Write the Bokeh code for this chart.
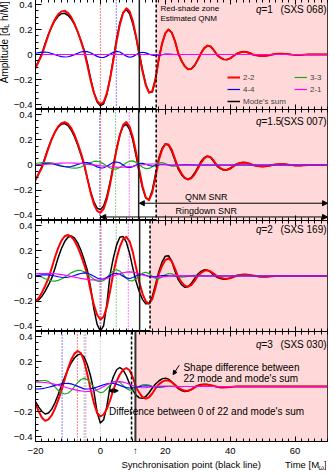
from bokeh.plotting import figure
from bokeh.models import (Span, BoxAnnotation, Label, Arrow, NormalHead, Legend, LegendItem,
                          SingleIntervalTicker, FixedTicker, CustomJSTickFormatter, Range1d,
                          LinearAxis)
from bokeh.layouts import column, row
from bokeh.embed import file_html
from bokeh.resources import INLINE
import math

FONT = "Liberation Sans"
RED, GREEN, BLUE, MAG = "#ff0000", "#1fa81f", "#0000ff", "#ff00ff"
SHADE = "#ffd9d9"

# time samples (M)
T = list(range(-20, 71))
TM = list(range(-20, 31)) + [70]
TZ = [-20, 70]

# ---------------- q = 1 (SXS 068) ----------------
red1 = [-0.11, -0.055, 0.0, 0.081, 0.158, 0.226, 0.282, 0.322, 0.345, 0.349,
        0.333, 0.299, 0.247, 0.182, 0.107, 0.025, -0.089, -0.207, -0.305, -0.371,
        -0.399, -0.381, -0.309, -0.191, -0.046, 0.105, 0.239, 0.332, 0.37, 0.346,
        0.267, 0.145, 0.0, -0.138, -0.247, -0.305, -0.293, -0.193, -0.034, 0.087,
        0.169, 0.2, 0.175, 0.106, 0.01, -0.05, -0.094, -0.118, -0.115, -0.089,
        -0.043, 0.009, 0.051, 0.071, 0.064, 0.033, -0.005, -0.025, -0.039, -0.041,
        -0.031, -0.012, 0.006, 0.016, 0.022, 0.02, 0.012, 0.0, -0.006, -0.01,
        -0.012, -0.01, -0.006, 0.0, 0.004, 0.007, 0.007, 0.005, 0.002, -0.001,
        -0.003, -0.004, -0.003, -0.001, 0, 0, 0, 0, 0, 0,
        0]
sum1 = [-0.10, -0.05, 0.01, 0.09, 0.162, 0.222, 0.272, 0.307, 0.327, 0.33,
        0.314, 0.285, 0.24, 0.182, 0.112, 0.035, -0.07, -0.193, -0.305, -0.38,
        -0.41, -0.395, -0.318, -0.19, -0.03, 0.125, 0.255, 0.335, 0.36, 0.325,
        0.246, 0.135, 0.005, -0.125, -0.238, -0.305, -0.3, -0.2, -0.038, 0.085,
        0.17, 0.2, 0.176, 0.107, 0.01, -0.05, -0.094, -0.118, -0.115, -0.089,
        -0.043, 0.009, 0.051, 0.071, 0.064, 0.033, -0.005, -0.025, -0.039, -0.041,
        -0.031, -0.012, 0.006, 0.016, 0.022, 0.02, 0.012, 0.0, -0.006, -0.01,
        -0.012, -0.01, -0.006, 0.0, 0.004, 0.007, 0.007, 0.005, 0.002, -0.001,
        -0.003, -0.004, -0.003, -0.001, 0, 0, 0, 0, 0, 0,
        0]
blue1 = [0.01, 0.015, 0.019, 0.02, 0.016, 0.008, -0.001, -0.01, -0.017, -0.02,
         -0.018, -0.011, -0.001, 0.01, 0.02, 0.025, 0.023, 0.014, -0.001, -0.015,
         -0.024, -0.024, -0.013, 0.003, 0.018, 0.025, 0.02, 0.004, -0.013, -0.022,
         -0.017, -0.002, 0.013, 0.018, 0.013, 0.003, -0.006, -0.01, -0.008, -0.002,
         0.003, 0.004, 0.002, 0, -0.001, 0, 0, 0, 0, 0,
         0, 0]
green1 = [0, 0]
mag1 = [0, 0]

# ---------------- q = 1.5 (SXS 007) ----------------
red2 = [-0.12, -0.07, -0.02, 0.056, 0.134, 0.204, 0.262, 0.306, 0.332, 0.34,
        0.327, 0.293, 0.24, 0.172, 0.094, 0.009, -0.11, -0.221, -0.309, -0.364,
        -0.379, -0.348, -0.269, -0.152, -0.014, 0.124, 0.24, 0.317, 0.34, 0.305,
        0.22, 0.097, -0.042, -0.171, -0.257, -0.279, -0.219, -0.093, 0.038, 0.12,
        0.166, 0.163, 0.12, 0.049, -0.02, -0.068, -0.101, -0.115, -0.106, -0.076,
        -0.031, 0.017, 0.052, 0.07, 0.062, 0.032, -0.005, -0.024, -0.038, -0.039,
        -0.03, -0.011, 0.006, 0.015, 0.02, 0.018, 0.011, 0.0, -0.006, -0.01,
        -0.012, -0.01, -0.006, 0.0, 0.004, 0.006, 0.007, 0.005, 0.002, -0.001,
        -0.003, -0.004, -0.003, -0.001, 0, 0, 0, 0, 0, 0,
        0]
sum2 = [-0.12, -0.065, -0.01, 0.065, 0.14, 0.207, 0.26, 0.3, 0.323, 0.328,
        0.313, 0.278, 0.225, 0.158, 0.082, 0.0, -0.108, -0.212, -0.292, -0.342,
        -0.354, -0.325, -0.248, -0.135, 0.0, 0.13, 0.238, 0.307, 0.323, 0.283,
        0.195, 0.072, -0.065, -0.185, -0.262, -0.274, -0.2, -0.07, 0.055, 0.131,
        0.168, 0.157, 0.108, 0.035, -0.033, -0.077, -0.106, -0.113, -0.1, -0.066,
        -0.02, 0.027, 0.058, 0.07, 0.058, 0.025, -0.01, -0.028, -0.04, -0.038,
        -0.026, -0.007, 0.009, 0.017, 0.02, 0.017, 0.009, 0.0, -0.006, -0.01,
        -0.012, -0.01, -0.006, 0.0, 0.004, 0.006, 0.007, 0.005, 0.002, -0.001,
        -0.003, -0.004, -0.003, -0.001, 0, 0, 0, 0, 0, 0,
        0]
blue2 = [-0.005, 0.002, 0.008, 0.011, 0.012, 0.01, 0.004, -0.003, -0.01, -0.014,
         -0.015, -0.012, -0.005, 0.004, 0.013, 0.019, 0.019, 0.011, -0.001, -0.015,
         -0.024, -0.022, -0.01, 0.006, 0.021, 0.024, 0.017, 0.0, -0.017, -0.021,
         -0.013, 0.0, 0.012, 0.014, 0.006, -0.004, -0.008, -0.006, 0.0, 0.004,
         0.003, 0.0, -0.002, 0, 0, 0, 0, 0, 0, 0,
         0, 0]
green2 = [0.012, 0.016, 0.019, 0.02, 0.02, 0.017, 0.011, 0.004, -0.004, -0.012,
          -0.018, -0.023, -0.025, -0.023, -0.016, -0.004, 0.009, 0.02, 0.028, 0.03,
          0.023, 0.009, -0.009, -0.024, -0.032, -0.031, -0.019, -0.001, 0.018, 0.03,
          0.033, 0.021, 0.002, -0.018, -0.029, -0.027, -0.013, 0.005, 0.018, 0.019,
          0.011, 0.0, -0.009, -0.009, -0.005, 0.0, 0.004, 0.004, 0.001, -0.002,
          -0.002, 0]
mag2 = [0.0, 0.002, 0.004, 0.006, 0.008, 0.01, 0.012, 0.014, 0.015, 0.016,
        0.016, 0.016, 0.015, 0.014, 0.012, 0.009, 0.006, 0.003, 0.0, -0.003,
        -0.006, -0.009, -0.012, -0.014, -0.016, -0.017, -0.018, -0.017, -0.016, -0.013,
        -0.01, -0.006, -0.002, 0.002, 0.005, 0.007, 0.008, 0.008, 0.007, 0.006,
        0.004, 0.002, 0.0, -0.001, -0.002, -0.002, -0.002, -0.001, 0.0, 0.0,
        0, 0]

# ---------------- q = 2 (SXS 169) ----------------
red3 = [-0.20, -0.174, -0.13, -0.077, -0.018, 0.063, 0.149, 0.223, 0.28, 0.315,
        0.325, 0.312, 0.28, 0.23, 0.165, 0.089, 0.008, -0.117, -0.229, -0.309,
        -0.344, -0.324, -0.244, -0.118, 0.024, 0.138, 0.232, 0.292, 0.31, 0.275,
        0.189, 0.067, -0.05, -0.141, -0.201, -0.22, -0.182, -0.092, 0.014, 0.08,
        0.126, 0.14, 0.116, 0.059, -0.009, -0.049, -0.076, -0.085, -0.072, -0.041,
        0.0, 0.024, 0.041, 0.045, 0.036, 0.017, -0.003, -0.013, -0.02, -0.022,
        -0.018, -0.008, 0.002, 0.006, 0.009, 0.01, 0.008, 0.005, 0.001, -0.002,
        -0.004, -0.005, -0.004, -0.002, 0, 0, 0, 0, 0, 0,
        0, 0, 0, 0, 0, 0, 0, 0, 0, 0,
        0]
sum3 = [-0.20, -0.188, -0.16, -0.12, -0.071, -0.017, 0.062, 0.146, 0.218, 0.273,
        0.307, 0.317, 0.302, 0.263, 0.204, 0.129, 0.044, -0.093, -0.262, -0.384,
        -0.438, -0.393, -0.22, 0.013, 0.143, 0.247, 0.307, 0.313, 0.268, 0.18,
        0.063, -0.044, -0.125, -0.187, -0.221, -0.218, -0.163, -0.067, 0.034, 0.11,
        0.157, 0.161, 0.117, 0.037, -0.029, -0.069, -0.089, -0.085, -0.06, -0.022,
        0.014, 0.037, 0.049, 0.046, 0.03, 0.005, -0.01, -0.02, -0.025, -0.023,
        -0.015, -0.004, 0.004, 0.009, 0.012, 0.011, 0.007, 0.002, -0.002, -0.005,
        -0.006, -0.005, -0.003, 0, 0, 0, 0, 0, 0, 0,
        0, 0, 0, 0, 0, 0, 0, 0, 0, 0,
        0]
blue3 = [0.0, 0.005, 0.009, 0.01, 0.009, 0.005, 0.0, -0.006, -0.01, -0.012,
         -0.01, -0.004, 0.004, 0.013, 0.02, 0.025, 0.022, 0.012, -0.002, -0.016,
         -0.024, -0.022, -0.012, 0.004, 0.018, 0.022, 0.014, -0.001, -0.015, -0.02,
         -0.012, 0.0, 0.011, 0.013, 0.006, -0.003, -0.007, -0.005, 0.0, 0.003,
         0.004, 0.002, 0.0, -0.001, 0, 0, 0, 0, 0, 0,
         0, 0]
green3 = [0.008, 0.002, -0.01, -0.022, -0.032, -0.038, -0.04, -0.035, -0.024, -0.009,
          0.008, 0.025, 0.037, 0.044, 0.044, 0.034, 0.016, -0.005, -0.026, -0.04,
          -0.045, -0.036, -0.012, 0.017, 0.041, 0.05, 0.039, 0.013, -0.018, -0.037,
          -0.038, -0.022, 0.002, 0.023, 0.03, 0.019, -0.001, -0.019, -0.021, -0.008,
          0.01, 0.02, 0.017, 0.008, -0.003, -0.01, -0.008, -0.002, 0.003, 0.005,
          0.003, 0]
mag3 = [0.018, 0.019, 0.02, 0.02, 0.02, 0.019, 0.018, 0.015, 0.011, 0.007,
        0.002, -0.003, -0.009, -0.014, -0.019, -0.023, -0.027, -0.03, -0.031, -0.032,
        -0.03, -0.026, -0.019, -0.01, 0.0, 0.01, 0.019, 0.026, 0.03, 0.032,
        0.03, 0.026, 0.018, 0.01, 0.002, -0.006, -0.01, -0.012, -0.011, -0.008,
        -0.005, -0.002, 0.001, 0.003, 0.004, 0.003, 0.002, 0.0, -0.001, -0.001,
        0, 0]

# ---------------- q = 3 (SXS 030) ----------------
red4 = [-0.14, -0.2, -0.25, -0.275, -0.263, -0.23, -0.177, -0.109, -0.032, 0.056,
        0.143, 0.214, 0.263, 0.284, 0.268, 0.2, 0.097, -0.024, -0.133, -0.212,
        -0.24, -0.224, -0.179, -0.11, -0.026, 0.042, 0.096, 0.133, 0.148, 0.13,
        0.072, -0.005, -0.051, -0.085, -0.097, -0.086, -0.056, -0.014, 0.017, 0.037,
        0.049, 0.048, 0.035, 0.013, -0.009, -0.025, -0.034, -0.034, -0.025, -0.009,
        0.005, 0.011, 0.015, 0.014, 0.01, 0.004, -0.002, -0.006, -0.007, -0.006,
        -0.004, -0.001, 0, 0, 0, 0, 0, 0, 0, 0,
        0, 0, 0, 0, 0, 0, 0, 0, 0, 0,
        0, 0, 0, 0, 0, 0, 0, 0, 0, 0,
        0]
sum4 = [-0.12, -0.165, -0.2, -0.22, -0.212, -0.181, -0.13, -0.065, 0.007, 0.074,
        0.136, 0.189, 0.228, 0.253, 0.26, 0.235, 0.172, 0.082, -0.038, -0.209,
        -0.292, -0.266, -0.157, 0.0, 0.078, 0.134, 0.152, 0.133, 0.086, 0.021,
        -0.031, -0.069, -0.091, -0.094, -0.079, -0.05, -0.012, 0.02, 0.044, 0.061,
        0.067, 0.059, 0.037, 0.007, -0.016, -0.032, -0.04, -0.037, -0.024, -0.004,
        0.008, 0.016, 0.019, 0.017, 0.011, 0.003, -0.004, -0.008, -0.009, -0.007,
        -0.004, -0.001, 0, 0, 0, 0, 0, 0, 0, 0,
        0, 0, 0, 0, 0, 0, 0, 0, 0, 0,
        0, 0, 0, 0, 0, 0, 0, 0, 0, 0,
        0]
blue4 = [-0.02, -0.02, -0.017, -0.012, -0.006, 0.001, 0.009, 0.016, 0.021, 0.024,
         0.025, 0.021, 0.012, 0.001, -0.009, -0.019, -0.02, -0.018, -0.013, -0.004,
         0.005, 0.014, 0.021, 0.024, 0.024, 0.019, 0.009, -0.001, -0.009, -0.012,
         -0.011, -0.007, -0.001, 0.004, 0.006, 0.004, 0.0, -0.002, -0.003, -0.002,
         0, 0, 0, 0, 0, 0, 0, 0, 0, 0,
         0, 0]
green4 = [0.04, 0.045, 0.048, 0.048, 0.041, 0.023, -0.003, -0.03, -0.05, -0.06,
          -0.054, -0.033, -0.001, 0.032, 0.056, 0.065, 0.055, 0.028, -0.006, -0.036,
          -0.05, -0.043, -0.018, 0.013, 0.038, 0.045, 0.033, 0.009, -0.016, -0.029,
          -0.027, -0.014, 0.002, 0.014, 0.016, 0.011, 0.002, -0.005, -0.008, -0.006,
          -0.001, 0.003, 0.004, 0.002, 0.0, -0.001, 0, 0, 0, 0,
          0, 0]
mag4 = [0.034, 0.035, 0.034, 0.032, 0.028, 0.023, 0.017, 0.011, 0.003, -0.004,
        -0.012, -0.019, -0.025, -0.031, -0.035, -0.038, -0.04, -0.039, -0.035, -0.026,
        -0.014, 0.0, 0.014, 0.026, 0.035, 0.039, 0.039, 0.035, 0.028, 0.018,
        0.007, -0.002, -0.008, -0.01, -0.009, -0.006, -0.003, 0.0, 0.002, 0.003,
        0.003, 0.001, 0.0, -0.001, 0, 0, 0, 0, 0, 0,
        0, 0]

# ---------------- per-panel annotations ----------------
q_vals = ["=1", "=1.5", "=2", "=3"]
sxs_vals = ["(SXS 068)", "(SXS 007)", "(SXS 169)", "(SXS 030)"]
label_y = [0.358, 0.345, 0.366, 0.334]
sync_t = [12.0, 11.8, 12.1, 10.8]      # solid black line (synchronisation point)
dash_t = [17.2, 17.2, 15.3, 9.6]       # dashed black line
shade_t = [17.2, 17.2, 15.3, 10.8]     # start of red-shade zone
peak_t = [
    [(0.0, RED), (4.9, BLUE)],
    [(-0.2, BLUE), (0.1, RED), (4.7, GREEN), (8.9, MAG)],
    [(-0.1, BLUE), (0.2, RED), (4.9, GREEN), (8.6, MAG)],
    [(-11.8, BLUE), (-7.1, RED), (-5.0, GREEN), (-4.5, MAG), (0.0, "#b0b0b0")],
]
x_major = [-20, 0, 20, 40, 60]

curves = [
    (T, sum1, T, red1, TZ, green1, TM, blue1, TZ, mag1),
    (T, sum2, T, red2, TM, green2, TM, blue2, TM, mag2),
    (T, sum3, T, red3, TM, green3, TM, blue3, TM, mag3),
    (T, sum4, T, red4, TM, green4, TM, blue4, TM, mag4),
]

FMT_CODE = """
const v = Math.round(tick * 100) / 100;
if (Math.abs(v - %s) < 0.05) { return "\\u2191"; }
if (Math.abs(v) < 1e-9) { return "0"; }
const s = String(Math.abs(v));
return v < 0 ? "\\u2212" + s : s;
""" % repr(sync_t[3])
EMPTY_CODE = "return '';"

LEFT_STRIP = 14
AXIS_BORDER = 22


def style_axis(ax, ticker, major_in, minor_in, labels):
    ax.ticker = ticker
    ax.axis_line_color = "black"
    ax.major_tick_in = major_in
    ax.major_tick_out = 0
    ax.minor_tick_in = minor_in
    ax.minor_tick_out = 0
    ax.major_tick_line_color = "black"
    ax.minor_tick_line_color = "black"
    if labels:
        ax.formatter = CustomJSTickFormatter(code=FMT_CODE)
        ax.major_label_text_font = FONT
        ax.major_label_text_font_size = "9.5px"
        ax.major_label_text_color = "black"
        ax.major_label_standoff = 3
    else:
        ax.formatter = CustomJSTickFormatter(code=EMPTY_CODE)
        ax.major_label_text_font_size = "0px"
        ax.major_label_standoff = 0


def lab(p, x, y, text, size="10px", align="left", style="normal", baseline="middle",
        angle=0.0):
    p.add_layout(Label(x=x, y=y, text=text, text_font=FONT, text_font_size=size,
                       text_align=align, text_baseline=baseline, text_font_style=style,
                       text_color="black", angle=angle))


def head(s):
    return NormalHead(size=s, fill_color="black", line_color="black")


xr = Range1d(-20, 70)
heights = [110, 111, 111, 110]
tops = [3, 0, 0, 0]
bottoms = [0, 0, 0, 16]
figs = []
for i in range(4):
    p = figure(frame_width=292, frame_height=heights[i], x_range=xr,
               y_range=Range1d(-0.44, 0.44), output_backend="svg", toolbar_location=None,
               min_border_left=AXIS_BORDER, min_border_right=2, min_border_top=tops[i],
               min_border_bottom=bottoms[i])
    p.grid.visible = False
    p.outline_line_color = "black"
    p.outline_line_width = 1
    p.background_fill_color = "white"
    p.border_fill_color = "white"

    style_axis(p.yaxis[0], SingleIntervalTicker(interval=0.2, num_minor_ticks=4), 6, 3, True)
    if i == 3:
        xt = FixedTicker(ticks=x_major + [sync_t[3]], minor_ticks=list(range(-20, 71, 2)))
    else:
        xt = SingleIntervalTicker(interval=20, num_minor_ticks=10)
    style_axis(p.xaxis[0], xt, 5, 3, i == 3)
    top_ax = LinearAxis()
    style_axis(top_ax, SingleIntervalTicker(interval=20, num_minor_ticks=10), 5, 3, False)
    p.add_layout(top_ax, "above")

    # red shade zone
    p.add_layout(BoxAnnotation(left=shade_t[i], fill_color=SHADE, fill_alpha=1.0,
                               line_alpha=0, level="underlay"))
    # peak-time dotted markers
    for (tt, cc) in peak_t[i]:
        p.add_layout(Span(location=tt, dimension="height", line_color=cc,
                          line_dash="1 2", line_width=1, level="underlay"))
    p.add_layout(Span(location=dash_t[i], dimension="height", line_color="black",
                      line_dash="3 2", line_width=1.5))
    p.add_layout(Span(location=sync_t[i], dimension="height",
                      line_color="#333333" if i == 3 else "#222222",
                      line_width=2 if i == 3 else 1.5))

    ts, ys, tr, yr, tg, yg, tb, yb, tm, ym = curves[i]
    r_sum = p.line(ts, ys, line_color="black", line_width=1.5, line_join="round")
    r_red = p.line(tr, yr, line_color=RED, line_width=2, line_join="round")
    r_grn = p.line(tg, yg, line_color=GREEN, line_width=1.2, line_join="round")
    r_blu = p.line(tb, yb, line_color=BLUE, line_width=1.2, line_join="round")
    r_mag = p.line(tm, ym, line_color=MAG, line_width=1.2, line_join="round")

    # q and SXS id
    lab(p, 49.66, label_y[i], "q", align="right", style="italic")
    lab(p, 49.66, label_y[i], q_vals[i], align="left")
    lab(p, 69.7, label_y[i], sxs_vals[i], align="right")

    if i == 0:
        lab(p, 18.5, 0.368, "Red-shade zone", size="8px")
        lab(p, 18.5, 0.288, "Estimated QNM", size="8px")
        common = dict(background_fill_alpha=0, border_line_alpha=0, padding=0, margin=0,
                      spacing=0, glyph_width=13, glyph_height=12, label_height=12,
                      label_standoff=3, label_text_font_size="8px", label_text_font=FONT)
        legA = Legend(items=[LegendItem(label="2-2", renderers=[r_red]),
                             LegendItem(label="4-4", renderers=[r_blu]),
                             LegendItem(label="Mode's sum", renderers=[r_sum])],
                      location=(192, 2), **common)
        legB = Legend(items=[LegendItem(label="3-3", renderers=[r_grn]),
                             LegendItem(label="2-1", renderers=[r_mag])],
                      location=(259, 14), **common)
        p.add_layout(legA)
        p.add_layout(legB)

    if i == 1:
        p.add_layout(Arrow(x_start=12.0, y_start=-0.303, x_end=70, y_end=-0.303,
                           start=head(5), end=head(5), line_width=1))
        p.add_layout(Arrow(x_start=0.1, y_start=-0.412, x_end=70, y_end=-0.412,
                           start=head(5), end=head(5), line_width=1))
        lab(p, 32.6, -0.25, "QNM SNR", size="9px", align="center")
        lab(p, 32.6, -0.365, "Ringdown SNR", size="9px", align="center")

    if i == 3:
        p.add_layout(Arrow(x_start=2.6, y_start=-0.034, x_end=5.5, y_end=-0.034,
                           start=head(4), end=head(4), line_width=1))
        lab(p, 2.65, -0.2, "Difference between 0 of 22 and mode's sum")
        lab(p, 25.6, 0.152, "Shape difference between")
        lab(p, 25.6, 0.064, "22 mode and mode's sum")
        p.add_layout(Arrow(x_start=24.3, y_start=0.17, x_end=22.4, y_end=0.095,
                           end=head(4), line_width=1))

    figs.append(p)

# strip under the bottom axis carrying the x-axis texts
p5 = figure(frame_width=292, frame_height=14, x_range=xr, y_range=Range1d(0, 14),
            output_backend="svg", toolbar_location=None, min_border_left=AXIS_BORDER,
            min_border_right=2, min_border_top=0, min_border_bottom=0,
            x_axis_location=None, y_axis_location=None)
p5.grid.visible = False
p5.outline_line_color = None
p5.border_fill_color = "white"
lab(p5, 6.5, 8, "Synchronisation point (black line)", size="9.5px")
lab(p5, 69.7, 8, "]", size="9.5px", align="right")
lab(p5, 68.9, 5, "\u03c9", size="7px", align="right")
lab(p5, 67.4, 8, "Time [M", size="9.5px", align="right")
figs.append(p5)

# strip left of the panels carrying the y-axis title
p0 = figure(frame_width=LEFT_STRIP, frame_height=475, x_range=Range1d(0, LEFT_STRIP),
            y_range=Range1d(0, 475), output_backend="svg", toolbar_location=None,
            min_border=0, x_axis_location=None, y_axis_location=None)
p0.grid.visible = False
p0.outline_line_color = None
p0.border_fill_color = "white"
ang = math.pi / 2
lab(p0, 8.0, 470, "\u00a0h/M]", size="10px", align="right", angle=ang)
lab(p0, 10.2, 447.7, "L", size="7px", align="right", angle=ang)
lab(p0, 8.0, 443.8, "Amplitude [d", size="10px", align="right", angle=ang)

layout = row(p0, column(*figs, spacing=0), spacing=0, margin=(-4, 0, -4, -4))
open("out.html", "w").write(file_html(layout, INLINE))
